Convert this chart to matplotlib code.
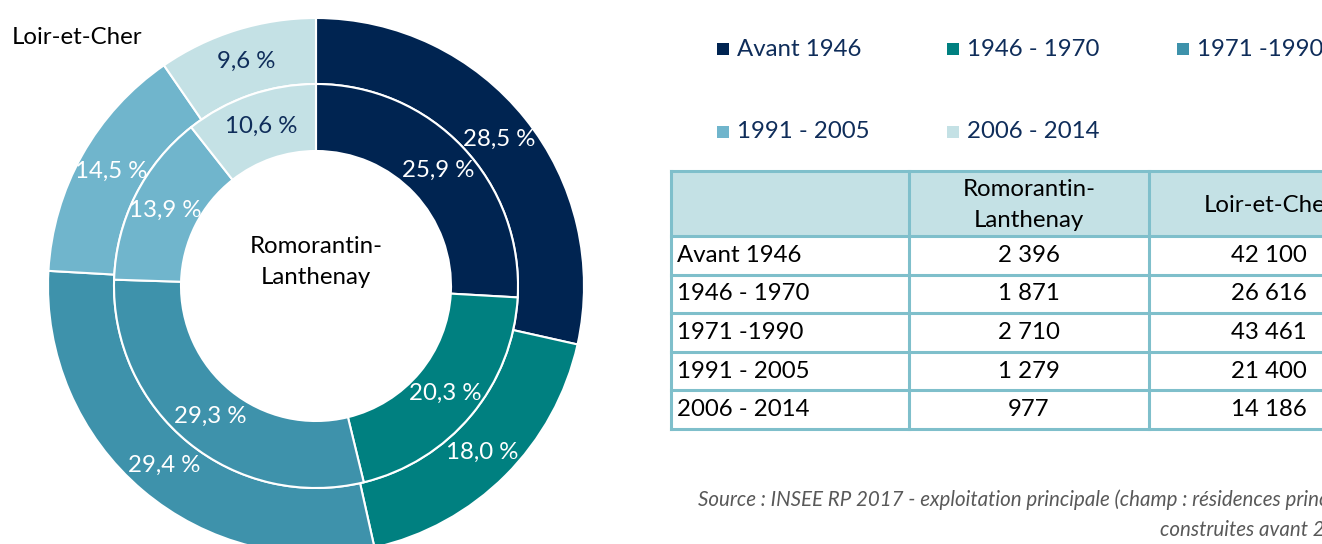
import matplotlib
matplotlib.use("Agg")
import matplotlib.pyplot as plt
import numpy as np
from matplotlib.patches import Rectangle

# ---------------- data ----------------
categories = ["Avant 1946", "1946 - 1970", "1971 -1990", "1991 - 2005", "2006 - 2014"]
loir_et_cher_pct = [28.5, 18.0, 29.4, 14.5, 9.6]      # outer ring
romorantin_pct = [25.9, 20.3, 29.3, 13.9, 10.6]       # inner ring
romorantin_counts = [2396, 1871, 2710, 1279, 977]
loir_et_cher_counts = [42100, 26616, 43461, 21400, 14186]
table_headers = ["", "Romorantin-\nLanthenay", "Loir-et-Cher"]
outer_name = "Loir-et-Cher"
inner_name = "Romorantin-\nLanthenay"
source_line1 = "Source : INSEE RP 2017 - exploitation principale (champ : résidences principales"
source_line2 = "construites avant 2015)"

# ---------------- style ----------------
colors = ["#002451", "#008080", "#3E92AB", "#70B5CC", "#C4E1E5"]
label_colors = ["white", "white", "white", "white", "#0F2D5A"]
navy_text = "#0F2D5A"
border_col = "#7FBFCB"
header_fill = "#C4E1E5"

plt.rcParams["font.family"] = ["Lato", "DejaVu Sans"]

W, H = 1322, 544
fig = plt.figure(figsize=(W / 100, H / 100), dpi=100)
FS = 17.3

# ---------------- donut ----------------
R = 268.0
cx, cy = 316.0, 286.0
ax = fig.add_axes([(cx - R) / W, (H - cy - R) / H, 2 * R / W, 2 * R / H])
r_mid_ring = 202.0 / R
hole = 135.0 / R
wp = dict(edgecolor="white", linewidth=1.5)

w_out, _ = ax.pie(loir_et_cher_pct, radius=1.0, startangle=90, counterclock=False,
                  colors=colors, wedgeprops=dict(width=1.0 - r_mid_ring, **wp))
w_in, _ = ax.pie(romorantin_pct, radius=r_mid_ring, startangle=90, counterclock=False,
                 colors=colors, wedgeprops=dict(width=r_mid_ring - hole, **wp))
ax.set_xlim(-1, 1)
ax.set_ylim(-1, 1)
ax.set_aspect("equal")
ax.axis("off")
for w in list(w_out) + list(w_in):
    w.set_clip_on(False)

def fmt_pct(p):
    return f"{p:.1f} %".replace(".", ",")

for wedges, pcts in ((w_out, loir_et_cher_pct), (w_in, romorantin_pct)):
    for w, p, lc in zip(wedges, pcts, label_colors):
        th = np.deg2rad((w.theta1 + w.theta2) / 2)
        rm = w.r - w.width / 2
        ax.text(rm * np.cos(th), rm * np.sin(th), fmt_pct(p), ha="center", va="center",
                fontsize=FS, color=lc)

# ---------------- overlay in pixel coordinates ----------------
ov = fig.add_axes([0, 0, 1, 1])
ov.set_xlim(0, W)
ov.set_ylim(H, 0)
ov.axis("off")

ov.text(12, 37, outer_name, ha="left", va="center", fontsize=FS, color="black")
ov.text(cx, 262, inner_name, ha="center", va="center", fontsize=FS, color="black",
        linespacing=1.62)

# legend
for i, (cat, col) in enumerate(zip(categories, colors)):
    x0 = 717 + 230 * (i % 3)
    y0 = 49 + 83 * (i // 3)
    ov.add_patch(Rectangle((x0, y0 - 6), 12, 12, facecolor=col, edgecolor="none"))
    ov.text(x0 + 20, y0, cat, ha="left", va="center", fontsize=FS, color=navy_text)

# table
col_x = [671, 909, 1149, 1389]
row_y = [171, 236, 274.6, 313.2, 351.8, 390.4, 429]
ov.add_patch(Rectangle((col_x[0], row_y[0]), col_x[-1] - col_x[0], row_y[1] - row_y[0],
                       facecolor=header_fill, edgecolor="none"))
for y in row_y:
    ov.plot([col_x[0], col_x[-1]], [y, y], color=border_col, lw=2.2, solid_capstyle="projecting")
for x in col_x:
    ov.plot([x, x], [row_y[0], row_y[-1]], color=border_col, lw=2.2, solid_capstyle="projecting")

hy = (row_y[0] + row_y[1]) / 2
for j, h in enumerate(table_headers):
    if h:
        ov.text((col_x[j] + col_x[j + 1]) / 2, hy + 1.5, h, ha="center", va="center",
                fontsize=FS, color="black", linespacing=1.62)

def fmt_int(v):
    return f"{v:,}".replace(",", " ")

for i, cat in enumerate(categories):
    ym = (row_y[i + 1] + row_y[i + 2]) / 2
    ov.text(col_x[0] + 6, ym, cat, ha="left", va="center", fontsize=FS, color="black")
    ov.text((col_x[1] + col_x[2]) / 2, ym, fmt_int(romorantin_counts[i]), ha="center",
            va="center", fontsize=FS, color="black")
    ov.text((col_x[2] + col_x[3]) / 2, ym, fmt_int(loir_et_cher_counts[i]), ha="center",
            va="center", fontsize=FS, color="black")

# source
ov.text(698, 500, source_line1, ha="left", va="center", fontsize=14.8, style="italic",
        color="#595959")
ov.text(1160, 530, source_line2, ha="left", va="center", fontsize=14.8, style="italic",
        color="#595959")

fig.savefig("out.png", dpi=100)
